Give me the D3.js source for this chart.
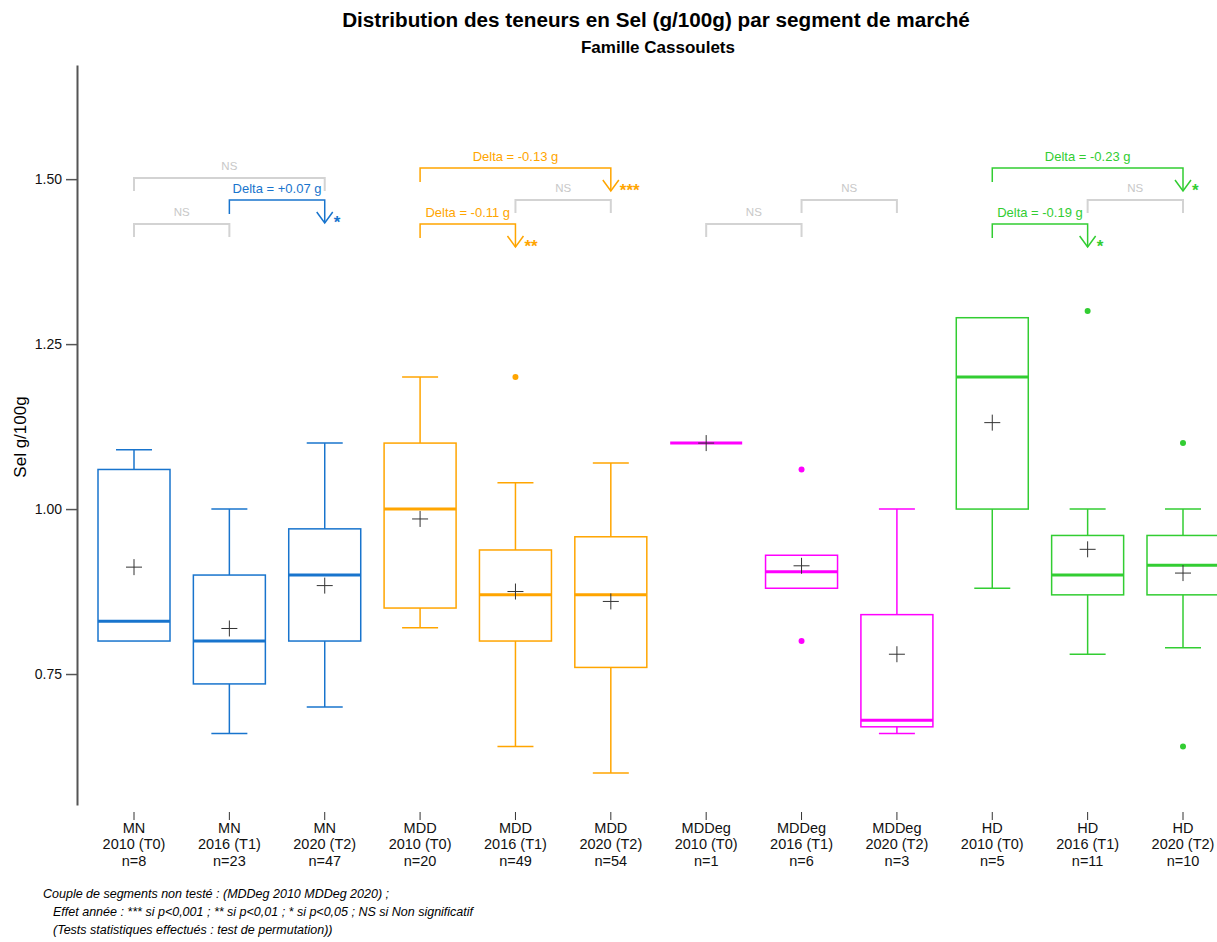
<!DOCTYPE html>
<html>
<head>
<meta charset="utf-8">
<script src="https://cdn.jsdelivr.net/npm/d3@7"></script>
<style>
  body { margin: 0; background: #fff; }
  text { font-family: Arial, "Liberation Sans", sans-serif; }
</style>
</head>
<body>
<svg id="chart"></svg>
<script>
// ---- data ----
let segments = ['MN', 'MN', 'MN', 'MDD', 'MDD', 'MDD', 'MDDeg', 'MDDeg', 'MDDeg', 'HD', 'HD', 'HD'];
let periods = ['2010 (T0)', '2016 (T1)', '2020 (T2)', '2010 (T0)', '2016 (T1)', '2020 (T2)',
               '2010 (T0)', '2016 (T1)', '2020 (T2)', '2010 (T0)', '2016 (T1)', '2020 (T2)'];
let counts = [8, 23, 47, 20, 49, 54, 1, 6, 3, 5, 11, 10];

let whiskerLow  = [0.80, 0.66, 0.70, 0.82, 0.64, 0.60, 1.10, 0.88, 0.66, 0.88, 0.78, 0.79];
let q1          = [0.80, 0.735, 0.80, 0.85, 0.80, 0.76, 1.10, 0.88, 0.67, 1.00, 0.87, 0.87];
let medians     = [0.83, 0.80, 0.90, 1.00, 0.87, 0.87, 1.10, 0.905, 0.68, 1.20, 0.90, 0.915];
let q3          = [1.06, 0.90, 0.97, 1.10, 0.938, 0.958, 1.10, 0.93, 0.84, 1.29, 0.96, 0.96];
let whiskerHigh = [1.09, 1.00, 1.10, 1.20, 1.04, 1.07, 1.10, 0.93, 1.00, 1.29, 1.00, 1.00];
let means       = [0.912, 0.819, 0.884, 0.985, 0.875, 0.86, 1.10, 0.914, 0.78, 1.131, 0.939, 0.903];
let outliers    = [[], [], [], [], [1.20], [], [], [1.06, 0.80], [], [], [1.30], [1.10, 0.64]];

let yTicks = [0.75, 1.00, 1.25, 1.50];

// comparisons: index of first and second box, result and delta text
let comparisons = [
  { a: 0, b: 2, sig: 'NS', delta: null },
  { a: 1, b: 2, sig: '*', delta: 'Delta = +0.07 g' },
  { a: 0, b: 1, sig: 'NS', delta: null },
  { a: 3, b: 5, sig: '***', delta: 'Delta = -0.13 g' },
  { a: 4, b: 5, sig: 'NS', delta: null },
  { a: 3, b: 4, sig: '**', delta: 'Delta = -0.11 g' },
  { a: 7, b: 8, sig: 'NS', delta: null },
  { a: 6, b: 7, sig: 'NS', delta: null },
  { a: 9, b: 11, sig: '*', delta: 'Delta = -0.23 g' },
  { a: 10, b: 11, sig: 'NS', delta: null },
  { a: 9, b: 10, sig: '*', delta: 'Delta = -0.19 g' }
];

let colors = { 'MN': '#1874CD', 'MDD': '#FFA500', 'MDDeg': '#FF00FF', 'HD': '#32CD32' };

let title = 'Distribution des teneurs en Sel (g/100g) par segment de marché';
let subtitle = 'Famille Cassoulets';
let footnotes = [
  'Couple de segments non testé : (MDDeg 2010 MDDeg 2020) ;',
  'Effet année : *** si p<0,001 ; ** si p<0,01 ; * si p<0,05 ; NS si Non significatif',
  '(Tests statistiques effectués : test de permutation))'
];

// ---- layout ----
let config = {
  svg: { width: 1217, height: 942 },
  plot: { left: 77, top: 65, bottom: 805, first: 134, last: 1183 },
  boxWidth: 72
};

let svg = d3.select('svg#chart')
  .attr('width', config.svg.width)
  .attr('height', config.svg.height);

let keys = d3.range(segments.length);

let scale = {};
scale.x = d3.scalePoint().domain(keys).range([config.plot.first, config.plot.last]);
scale.y = d3.scaleLinear().domain([0.5515, 1.673]).range([config.plot.bottom, config.plot.top]);

// y axis
let gy = svg.append('g')
  .attr('transform', translate(config.plot.left, 0))
  .call(d3.axisLeft(scale.y).tickValues(yTicks).tickFormat(d3.format('.2f')).tickSize(11).tickSizeOuter(0).tickPadding(4));
gy.select('.domain').attr('stroke', '#555').attr('stroke-width', 2);
gy.selectAll('.tick line').attr('stroke', '#555').attr('stroke-width', 1.5);
gy.selectAll('.tick text').attr('font-size', 14).attr('fill', '#111').attr('font-family', 'Arial, "Liberation Sans", sans-serif');

// x ticks and labels (no axis line)
let xlab = svg.append('g').selectAll('g').data(keys).enter().append('g')
  .attr('transform', d => translate(scale.x(d), 0));
xlab.append('line').attr('y1', 812).attr('y2', 820).attr('stroke', '#333');
xlab.append('text').attr('y', 833).text(d => segments[d]);
xlab.append('text').attr('y', 849).text(d => periods[d]);
xlab.append('text').attr('y', 866).text(d => 'n=' + counts[d]);
xlab.selectAll('text').attr('text-anchor', 'middle').attr('font-size', 14.5).attr('fill', '#111');

// boxes
let bw = config.boxWidth;
let boxes = svg.append('g').selectAll('g').data(keys).enter().append('g')
  .attr('transform', d => translate(scale.x(d), 0))
  .attr('stroke', d => colors[segments[d]])
  .attr('fill', 'none');

boxes.append('line')
  .attr('y1', d => scale.y(whiskerHigh[d])).attr('y2', d => scale.y(q3[d]))
  .attr('stroke-width', 1.5);
boxes.append('line')
  .attr('y1', d => scale.y(q1[d])).attr('y2', d => scale.y(whiskerLow[d]))
  .attr('stroke-width', 1.5);
boxes.filter(d => whiskerHigh[d] > q3[d]).append('line')
  .attr('x1', -bw / 4).attr('x2', bw / 4)
  .attr('y1', d => scale.y(whiskerHigh[d])).attr('y2', d => scale.y(whiskerHigh[d]))
  .attr('stroke-width', 1.5);
boxes.filter(d => whiskerLow[d] < q1[d]).append('line')
  .attr('x1', -bw / 4).attr('x2', bw / 4)
  .attr('y1', d => scale.y(whiskerLow[d])).attr('y2', d => scale.y(whiskerLow[d]))
  .attr('stroke-width', 1.5);
boxes.filter(d => q3[d] > q1[d]).append('rect')
  .attr('x', -bw / 2).attr('width', bw)
  .attr('y', d => scale.y(q3[d]))
  .attr('height', d => scale.y(q1[d]) - scale.y(q3[d]))
  .attr('stroke-width', 1.5);
boxes.append('line')
  .attr('x1', -bw / 2).attr('x2', bw / 2)
  .attr('y1', d => scale.y(medians[d])).attr('y2', d => scale.y(medians[d]))
  .attr('stroke-width', 3);

// outliers
boxes.each(function(d) {
  d3.select(this).selectAll('circle').data(outliers[d]).enter().append('circle')
    .attr('r', 3)
    .attr('cy', v => scale.y(v))
    .attr('stroke', 'none')
    .attr('fill', colors[segments[d]]);
});

// means
boxes.append('path')
  .attr('d', d => {
    let y = scale.y(means[d]);
    return 'M-8,' + y + 'H8M0,' + (y - 8) + 'V' + (y + 8);
  })
  .attr('stroke', '#333')
  .attr('stroke-width', 1);

// comparison brackets
function rowY(c) {
  let span = c.b - c.a;
  if (span === 2) return c.sig === 'NS' ? 178 : 168;
  if (c.a % 3 === 1) return 200;
  return 224;
}

let cmp = svg.append('g').selectAll('g').data(comparisons).enter().append('g');

cmp.each(function(c) {
  let g = d3.select(this);
  let x1 = scale.x(c.a), x2 = scale.x(c.b), y = rowY(c);
  if (c.sig === 'NS') {
    g.append('path')
      .attr('d', 'M' + x1 + ',' + (y + 13) + 'V' + y + 'H' + x2 + 'V' + (y + 13))
      .attr('fill', 'none').attr('stroke', '#D3D3D3').attr('stroke-width', 2);
    g.append('text').attr('x', (x1 + x2) / 2).attr('y', y - 8)
      .attr('text-anchor', 'middle').attr('font-size', 11.5).attr('fill', '#C8C8C8').text('NS');
  } else {
    let col = colors[segments[c.a]];
    g.append('path')
      .attr('d', 'M' + x1 + ',' + (y + 14) + 'V' + y + 'H' + x2 + 'V' + (y + 23))
      .attr('fill', 'none').attr('stroke', col).attr('stroke-width', 1.5);
    g.append('path')
      .attr('d', 'M' + (x2 - 8) + ',' + (y + 12) + 'L' + x2 + ',' + (y + 23) + 'L' + (x2 + 8) + ',' + (y + 12))
      .attr('fill', 'none').attr('stroke', col).attr('stroke-width', 1.5);
    g.append('text').attr('x', (x1 + x2) / 2).attr('y', y - 7)
      .attr('text-anchor', 'middle').attr('font-size', 13).attr('fill', col).text(c.delta);
    g.append('text').attr('x', x2 + 9).attr('y', y + 28)
      .attr('font-size', 17).attr('font-weight', 'bold').attr('fill', col).text(c.sig);
  }
});

// titles
svg.append('text').attr('x', 656).attr('y', 27)
  .attr('text-anchor', 'middle').attr('font-size', 20.7).attr('font-weight', 'bold').attr('fill', '#000')
  .text(title);
svg.append('text').attr('x', 658).attr('y', 53)
  .attr('text-anchor', 'middle').attr('font-size', 17).attr('font-weight', 'bold').attr('fill', '#000')
  .text(subtitle);

svg.append('text')
  .attr('transform', translate(26, 437) + ' rotate(-90)')
  .attr('text-anchor', 'middle').attr('font-size', 17).attr('fill', '#000')
  .text('Sel g/100g');

svg.append('g').selectAll('text').data(footnotes).enter().append('text')
  .attr('x', (d, i) => i === 0 ? 43 : 53)
  .attr('y', (d, i) => 898 + i * 18)
  .attr('font-size', 12.5).attr('font-style', 'italic').attr('fill', '#000')
  .text(d => d);

function translate(x, y) {
  return 'translate(' + x + ',' + y + ')';
}
</script>
</body>
</html>
